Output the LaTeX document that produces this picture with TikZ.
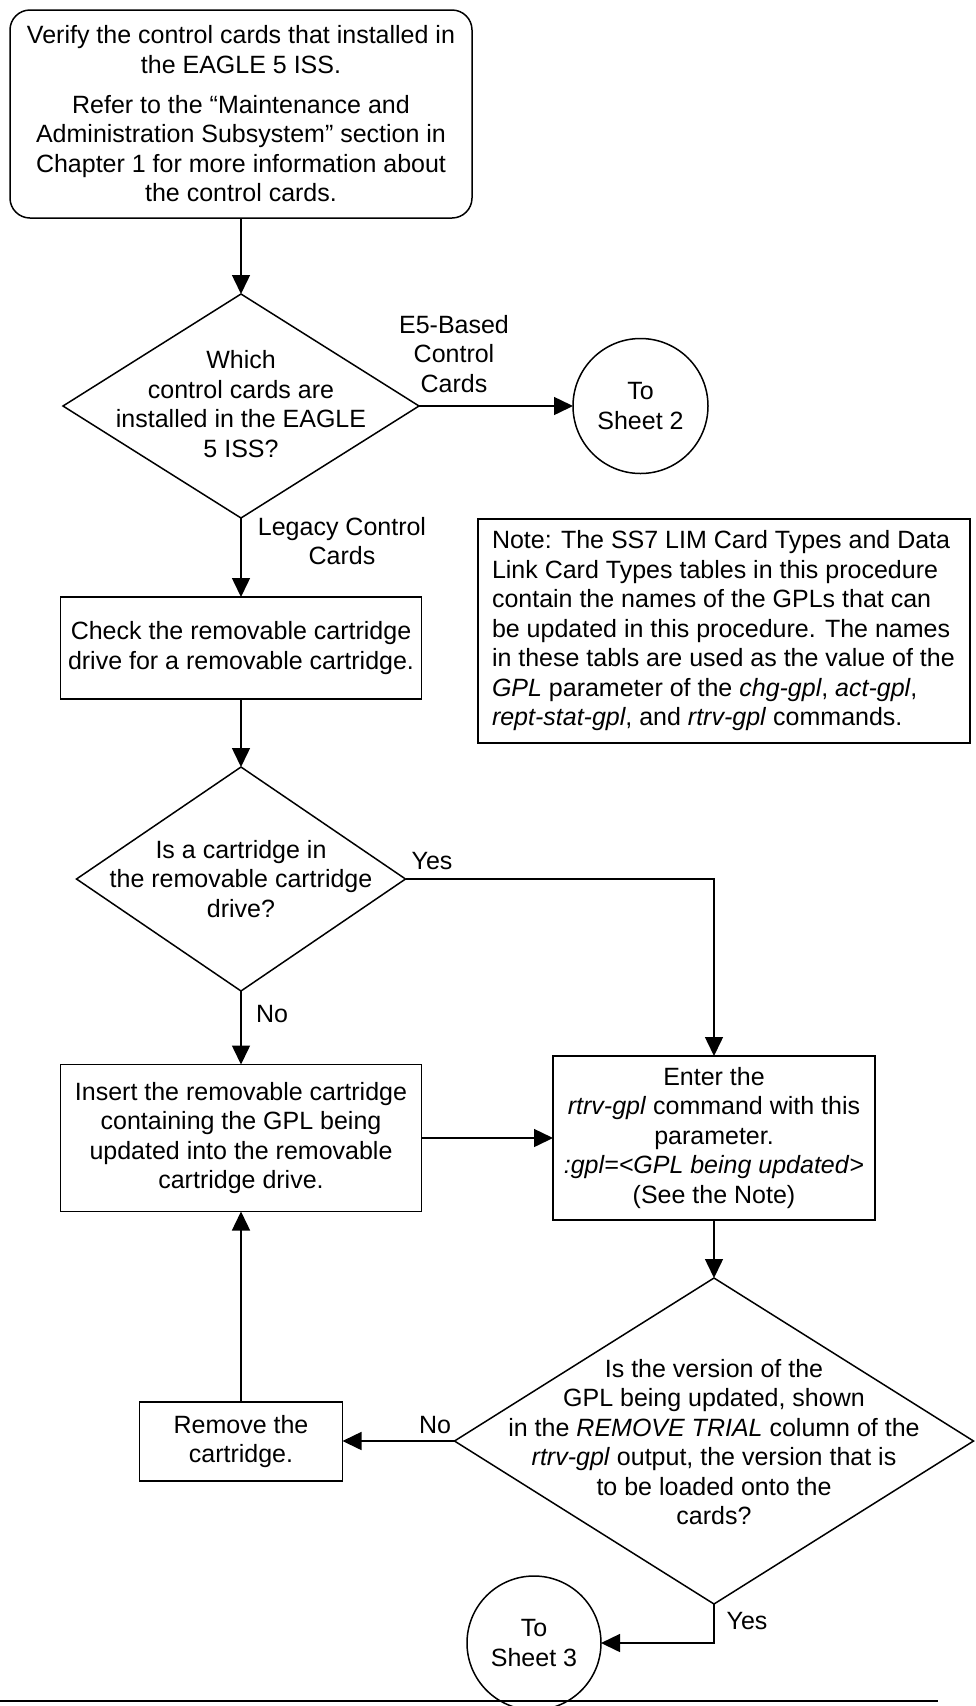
\documentclass[tikz,border=0pt]{standalone}
\usepackage{fontspec}
\setmainfont{Liberation Sans}
\usetikzlibrary{arrows.meta,shapes.geometric}
\begin{document}
\begin{tikzpicture}[x=1pt,y=-1pt,
  every node/.style={font=\fontsize{25}{29.5}\selectfont, inner sep=0pt, outer sep=0pt},
  box/.style={draw, line width=1.5pt, rectangle, align=center},
  dec/.style={draw, line width=1.5pt, diamond},
  conn/.style={draw, line width=1.5pt, circle, align=center},
  arr/.style={line width=1.5pt, -{Triangle[length=19pt,width=18pt]}},
  lbl/.style={align=center}]
\useasboundingbox (0,0) rectangle (976,1706);
\clip (0,0) rectangle (976,1706);

\node[box, rounded corners=20pt, minimum width=462pt, minimum height=208pt] (start) at (241,114)
  {Verify the control cards that installed in\\the EAGLE 5 ISS.\\[10.5pt]Refer to the “Maintenance and\\Administration Subsystem” section in\\Chapter 1 for more information about\\the control cards.};

\node[dec, minimum width=356pt, minimum height=224pt] (d1) at (241,406) {};
\node[lbl] (d1t) at (241,404) {Which\\control cards are\\installed in the EAGLE\\5 ISS?};

\node[conn, minimum size=135pt] (s2) at (640.5,406) {To\\Sheet 2};

\node[box, minimum width=361pt, minimum height=102pt] (check) at (241,648)
  {Check the removable cartridge\\drive for a removable cartridge.};

\node[box, minimum width=492pt, minimum height=224pt] (note) at (724,631) {};
\node[anchor=west, align=left] (notet) at (492,631)
  {Note: The SS7 LIM Card Types and Data\\Link Card Types tables in this procedure\\contain the names of the GPLs that can\\be updated in this procedure. The names\\in these tabls are used as the value of the\\\textit{GPL} parameter of the \textit{chg-gpl}, \textit{act-gpl},\\\textit{rept-stat-gpl}, and \textit{rtrv-gpl} commands.};

\node[dec, minimum width=329pt, minimum height=224pt] (d2) at (241,879) {};
\node[lbl] (d2t) at (241,879) {Is a cartridge in\\the removable cartridge\\drive?};

\node[box, minimum width=361pt, minimum height=147pt] (insert) at (241,1138)
  {Insert the removable cartridge\\containing the GPL being\\updated into the removable\\cartridge drive.};

\node[box, minimum width=322pt, minimum height=164pt] (enter) at (714,1138)
  {Enter the\\\textit{rtrv-gpl} command with this\\parameter.\\\textit{:gpl=<GPL being updated}>\\(See the Note)};

\node[dec, minimum width=519pt, minimum height=326pt] (d3) at (714,1441) {};
\node[lbl] (d3t) at (714,1442) {Is the version of the\\GPL being updated, shown\\in the \textit{REMOVE TRIAL} column of the\\\textit{rtrv-gpl} output, the version that is\\to be loaded onto the\\cards?};

\node[box, minimum width=203pt, minimum height=79pt] (remove) at (241,1441.5)
  {Remove the\\cartridge.};

\node[conn, minimum size=134pt] (s3) at (534,1643) {To\\Sheet 3};

\coordinate (bl) at (0,1701);
\coordinate (br) at (938,1701);
\draw[line width=1.5pt] (bl) -- (br);

\draw[arr] (start.south) -- (d1.north);
\draw[arr] (d1.east) -- (s2.west);
\draw[arr] (d1.south) -- (check.north);
\draw[arr] (check.south) -- (d2.north);
\draw[arr] (d2.south) -- (insert.north);
\draw[arr] (d2.east) -| (enter.north);
\draw[arr] (insert.east) -- (enter.west |- insert.east);
\draw[arr] (enter.south) -- (d3.north);
\draw[arr] (d3.west) -- (remove.east |- d3.west);
\draw[arr] (remove.north) -- (insert.south);
\draw[arr] (d3.south) |- (s3.east);

\node[lbl] (l1) at (454,354) {E5-Based\\Control\\Cards};
\node[lbl] (l2) at (342,541) {Legacy Control\\Cards};
\node[lbl] (l3) at (432,861) {Yes};
\node[lbl] (l4) at (272,1014) {No};
\node[lbl] (l5) at (435,1425) {No};
\node[lbl] (l6) at (747,1621) {Yes};
\end{tikzpicture}
\end{document}
